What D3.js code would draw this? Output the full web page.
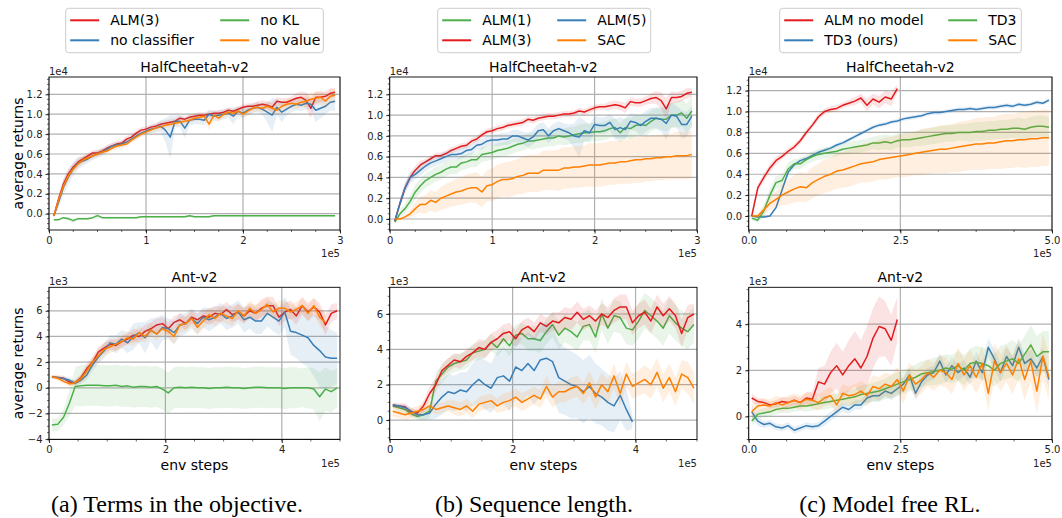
<!DOCTYPE html>
<html lang="en">
  <head>
    <meta charset="UTF-8" />
    <title>ALM ablations</title>
    <style>
      body { margin: 0; background: #fff; }
      svg { display: block; font-family: "DejaVu Sans", sans-serif; }
    </style>
  </head>
  <body>
    <div class="chart"></div>
    <script src="https://d3js.org/d3.v7.min.js"></script>
    <script>
      // env steps (x 1e5)
      const cheetahSteps = d3.range(59).map((i) => 0.05 + i * 0.05);
      const longSteps = d3.range(50).map((i) => 0.05 + i * 0.1);

      // ---- HalfCheetah, returns x 1e4 ----
      const alm3Cheetah = [
        -0.02, 0.15, 0.3, 0.4, 0.47, 0.52, 0.55, 0.58, 0.61, 0.61,
        0.63, 0.66, 0.68, 0.7, 0.71, 0.75, 0.77, 0.81, 0.84, 0.85,
        0.87, 0.88, 0.9, 0.91, 0.92, 0.93, 0.96, 0.95, 0.97, 0.98,
        0.99, 0.99, 1.0, 1.01, 1.01, 1.02, 1.04, 1.03, 1.05, 1.07,
        1.08, 1.08, 1.09, 1.1, 1.09, 1.07, 1.13, 1.12, 1.12, 1.14,
        1.16, 1.17, 1.14, 1.06, 1.17, 1.17, 1.18, 1.21, 1.22,
      ];
      const alm3CheetahSd = [
        0.02, 0.04, 0.05, 0.05, 0.04, 0.04, 0.03, 0.03, 0.03, 0.03,
        0.03, 0.03, 0.03, 0.03, 0.03, 0.03, 0.03, 0.03, 0.03, 0.03,
        0.03, 0.03, 0.03, 0.03, 0.03, 0.03, 0.03, 0.03, 0.03, 0.03,
        0.03, 0.03, 0.03, 0.03, 0.03, 0.03, 0.03, 0.03, 0.03, 0.03,
        0.03, 0.03, 0.04, 0.04, 0.04, 0.05, 0.04, 0.04, 0.04, 0.04,
        0.05, 0.06, 0.08, 0.1, 0.06, 0.05, 0.05, 0.05, 0.04,
      ];
      const noClassifierCheetah = [
        -0.02, 0.12, 0.27, 0.37, 0.45, 0.51, 0.53, 0.55, 0.58, 0.6,
        0.62, 0.65, 0.68, 0.69, 0.7, 0.72, 0.75, 0.78, 0.81, 0.83,
        0.85, 0.86, 0.88, 0.84, 0.77, 0.93, 0.93, 0.86, 0.94, 0.95,
        0.95, 0.94, 1.0, 0.98, 0.99, 1.0, 1.01, 0.98, 1.03, 1.01,
        1.04, 1.06, 1.07, 1.05, 1.02, 0.99, 1.07, 1.02, 1.05, 1.08,
        1.1, 1.09, 1.11, 1.1, 1.04, 1.06, 1.08, 1.12, 1.13,
      ];
      const noClassifierCheetahSd = [
        0.02, 0.06, 0.08, 0.08, 0.07, 0.06, 0.05, 0.04, 0.04, 0.04,
        0.04, 0.03, 0.03, 0.03, 0.03, 0.03, 0.03, 0.03, 0.03, 0.03,
        0.04, 0.05, 0.06, 0.12, 0.22, 0.06, 0.06, 0.1, 0.05, 0.05,
        0.05, 0.05, 0.05, 0.05, 0.05, 0.05, 0.05, 0.08, 0.05, 0.05,
        0.05, 0.05, 0.05, 0.06, 0.1, 0.17, 0.08, 0.1, 0.06, 0.06,
        0.06, 0.06, 0.06, 0.06, 0.12, 0.1, 0.08, 0.08, 0.1,
      ];
      const noKlCheetah = [
        -0.06, -0.06, -0.04, -0.05, -0.07, -0.05, -0.05, -0.05, -0.04, -0.02,
        -0.04, -0.04, -0.04, -0.04, -0.04, -0.04, -0.04, -0.04, -0.03, -0.03,
        -0.03, -0.03, -0.03, -0.03, -0.03, -0.03, -0.03, -0.03, -0.02, -0.03,
        -0.03, -0.03, -0.03, -0.02, -0.02, -0.02, -0.02, -0.02, -0.02, -0.02,
        -0.02, -0.02, -0.02, -0.02, -0.02, -0.02, -0.02, -0.02, -0.02, -0.02,
        -0.02, -0.02, -0.02, -0.02, -0.02, -0.02, -0.02, -0.02, -0.02,
      ];
      const noKlCheetahSd = [
        0.01, 0.01, 0.01, 0.02, 0.02, 0.01, 0.01, 0.01, 0.01, 0.03,
        0.01, 0.01, 0.01, 0.01, 0.01, 0.01, 0.01, 0.01, 0.01, 0.01,
        0.01, 0.01, 0.01, 0.01, 0.01, 0.01, 0.01, 0.01, 0.01, 0.01,
        0.01, 0.01, 0.01, 0.01, 0.01, 0.01, 0.01, 0.01, 0.01, 0.01,
        0.01, 0.01, 0.01, 0.01, 0.01, 0.01, 0.01, 0.01, 0.01, 0.01,
        0.01, 0.01, 0.01, 0.01, 0.01, 0.01, 0.01, 0.01, 0.01,
      ];
      const noValueCheetah = [
        -0.02, 0.14, 0.28, 0.38, 0.45, 0.5, 0.54, 0.56, 0.58, 0.6,
        0.62, 0.63, 0.66, 0.68, 0.69, 0.7, 0.74, 0.77, 0.8, 0.82,
        0.84, 0.86, 0.87, 0.89, 0.9, 0.91, 0.92, 0.93, 0.94, 0.96,
        0.97, 0.98, 0.9, 0.99, 0.96, 1.0, 1.02, 1.01, 1.03, 1.0,
        1.03, 1.06, 1.07, 1.06, 1.08, 1.06, 1.04, 1.08, 1.1, 1.11,
        1.1, 1.12, 1.13, 1.15, 1.16, 1.17, 1.13, 1.18, 1.19,
      ];
      const noValueCheetahSd = [
        0.02, 0.04, 0.05, 0.05, 0.04, 0.04, 0.04, 0.03, 0.03, 0.03,
        0.03, 0.03, 0.03, 0.03, 0.03, 0.03, 0.03, 0.03, 0.03, 0.03,
        0.03, 0.03, 0.03, 0.03, 0.03, 0.03, 0.03, 0.03, 0.03, 0.03,
        0.03, 0.03, 0.06, 0.04, 0.04, 0.03, 0.03, 0.03, 0.03, 0.04,
        0.04, 0.04, 0.04, 0.04, 0.04, 0.05, 0.05, 0.05, 0.05, 0.05,
        0.05, 0.05, 0.06, 0.06, 0.06, 0.07, 0.07, 0.07, 0.07,
      ];
      const alm1Cheetah = [
        -0.03, 0.05, 0.1, 0.17, 0.26, 0.32, 0.37, 0.4, 0.43, 0.45,
        0.48, 0.5, 0.5, 0.54, 0.55, 0.57, 0.57, 0.62, 0.63, 0.64,
        0.66, 0.67, 0.68, 0.7, 0.72, 0.73, 0.75, 0.75, 0.76, 0.77,
        0.78, 0.78, 0.8, 0.79, 0.8, 0.81, 0.82, 0.83, 0.83, 0.84,
        0.84, 0.85, 0.87, 0.88, 0.83, 0.88, 0.87, 0.9, 0.91, 0.9,
        0.94, 0.97, 0.96, 0.96, 1.0, 1.0, 1.02, 0.97, 1.04,
      ];
      const alm1CheetahSd = [
        0.01, 0.03, 0.05, 0.06, 0.07, 0.07, 0.07, 0.07, 0.07, 0.07,
        0.07, 0.07, 0.07, 0.07, 0.07, 0.07, 0.07, 0.07, 0.07, 0.07,
        0.07, 0.07, 0.07, 0.07, 0.07, 0.07, 0.07, 0.08, 0.08, 0.08,
        0.08, 0.08, 0.08, 0.08, 0.08, 0.08, 0.09, 0.09, 0.09, 0.09,
        0.09, 0.09, 0.09, 0.09, 0.09, 0.1, 0.1, 0.1, 0.1, 0.1,
        0.1, 0.1, 0.1, 0.12, 0.12, 0.13, 0.13, 0.14, 0.15,
      ];
      const alm5Cheetah = [
        -0.02, 0.15, 0.3, 0.4, 0.43, 0.47, 0.51, 0.54, 0.56, 0.58,
        0.6, 0.62, 0.62, 0.63, 0.66, 0.67, 0.71, 0.72, 0.75, 0.76,
        0.76, 0.77, 0.77, 0.8, 0.8, 0.78, 0.76, 0.79, 0.85, 0.86,
        0.8, 0.85, 0.87, 0.85, 0.83, 0.8, 0.79, 0.85, 0.83, 0.91,
        0.9, 0.9, 0.93, 0.86, 0.88, 0.86, 0.94, 0.93, 0.9, 0.94,
        0.97, 0.97, 0.96, 0.92, 1.0, 0.99, 0.91, 0.91, 0.99,
      ];
      const alm5CheetahSd = [
        0.01, 0.04, 0.05, 0.05, 0.05, 0.05, 0.05, 0.05, 0.05, 0.05,
        0.05, 0.05, 0.05, 0.05, 0.05, 0.05, 0.05, 0.05, 0.05, 0.05,
        0.06, 0.06, 0.06, 0.06, 0.06, 0.06, 0.07, 0.07, 0.07, 0.07,
        0.07, 0.07, 0.07, 0.07, 0.08, 0.12, 0.2, 0.1, 0.08, 0.08,
        0.08, 0.08, 0.08, 0.1, 0.1, 0.1, 0.08, 0.08, 0.1, 0.1,
        0.1, 0.1, 0.12, 0.16, 0.12, 0.1, 0.14, 0.12, 0.1,
      ];
      const sacCheetah = [
        0.0, 0.0, 0.02, 0.05, 0.1, 0.14, 0.14, 0.18, 0.16, 0.2,
        0.22, 0.24, 0.26, 0.27, 0.29, 0.3, 0.3, 0.26, 0.32, 0.33,
        0.36, 0.38, 0.38, 0.39, 0.41, 0.42, 0.44, 0.44, 0.44, 0.47,
        0.47, 0.47, 0.47, 0.49, 0.49, 0.5, 0.5, 0.51, 0.52, 0.52,
        0.52, 0.53, 0.54, 0.54, 0.55, 0.55, 0.56, 0.57, 0.57, 0.58,
        0.58, 0.59, 0.59, 0.6, 0.6, 0.61, 0.61, 0.61, 0.62,
      ];
      const sacCheetahSd = [
        0.0, 0.01, 0.02, 0.04, 0.06, 0.08, 0.09, 0.1, 0.1, 0.11,
        0.12, 0.12, 0.13, 0.13, 0.14, 0.14, 0.15, 0.15, 0.15, 0.16,
        0.16, 0.16, 0.17, 0.17, 0.17, 0.18, 0.18, 0.18, 0.18, 0.19,
        0.19, 0.19, 0.2, 0.2, 0.2, 0.2, 0.2, 0.2, 0.21, 0.21,
        0.21, 0.21, 0.21, 0.21, 0.21, 0.21, 0.22, 0.22, 0.22, 0.22,
        0.22, 0.22, 0.22, 0.22, 0.22, 0.23, 0.23, 0.23, 0.23,
      ];
      // model free, HalfCheetah (longSteps)
      const noModelCheetah = [
        0.0, 0.27, 0.37, 0.46, 0.53, 0.57, 0.62, 0.66, 0.72, 0.8,
        0.87, 0.95, 1.0, 1.02, 1.03, 1.06, 1.08, 1.1, 1.13, 1.06,
        1.12, 1.09, 1.14, 1.12, 1.22,
      ];
      const noModelCheetahSd = [
        0.01, 0.04, 0.04, 0.04, 0.04, 0.03, 0.03, 0.03, 0.03, 0.03,
        0.03, 0.03, 0.03, 0.03, 0.03, 0.03, 0.03, 0.04, 0.04, 0.06,
        0.05, 0.06, 0.06, 0.07, 0.04,
      ];
      const td3OursCheetah = [
        0.0, -0.01, -0.01, 0.0, 0.08, 0.25, 0.42, 0.49, 0.53, 0.55,
        0.58, 0.61, 0.63, 0.65, 0.68, 0.7, 0.73, 0.76, 0.79, 0.82,
        0.85, 0.87, 0.88, 0.9, 0.91, 0.93, 0.94, 0.95, 0.96, 0.98,
        0.99, 0.99, 1.0, 1.01, 1.02, 1.02, 1.03, 1.02, 1.03, 1.04,
        1.04, 1.05, 1.06, 1.05, 1.07, 1.06, 1.07, 1.09, 1.08, 1.11,
      ];
      const td3OursCheetahSd = [
        0.01, 0.01, 0.01, 0.01, 0.02, 0.03, 0.02, 0.02, 0.02, 0.02,
        0.02, 0.02, 0.02, 0.02, 0.02, 0.02, 0.02, 0.02, 0.02, 0.02,
        0.02, 0.02, 0.02, 0.02, 0.02, 0.02, 0.02, 0.02, 0.02, 0.02,
        0.02, 0.02, 0.02, 0.02, 0.02, 0.02, 0.02, 0.02, 0.02, 0.02,
        0.02, 0.02, 0.02, 0.02, 0.02, 0.02, 0.02, 0.02, 0.02, 0.02,
      ];
      const td3Cheetah = [
        -0.02, -0.04, 0.05, 0.2, 0.32, 0.34, 0.45, 0.5, 0.5, 0.54,
        0.57, 0.59, 0.6, 0.61, 0.62, 0.64, 0.65, 0.66, 0.67, 0.68,
        0.7, 0.7, 0.71, 0.7, 0.72, 0.73, 0.73, 0.74, 0.75, 0.76,
        0.77, 0.78, 0.79, 0.79, 0.8, 0.8, 0.8, 0.81, 0.81, 0.82,
        0.82, 0.83, 0.83, 0.84, 0.84, 0.83, 0.85, 0.86, 0.86, 0.85,
      ];
      const td3CheetahSd = [
        0.02, 0.03, 0.06, 0.06, 0.06, 0.06, 0.06, 0.05, 0.05, 0.05,
        0.05, 0.05, 0.05, 0.05, 0.05, 0.05, 0.06, 0.06, 0.06, 0.06,
        0.06, 0.07, 0.07, 0.07, 0.07, 0.07, 0.07, 0.07, 0.08, 0.08,
        0.08, 0.08, 0.08, 0.08, 0.08, 0.08, 0.09, 0.09, 0.09, 0.09,
        0.09, 0.09, 0.09, 0.09, 0.1, 0.1, 0.1, 0.1, 0.1, 0.1,
      ];
      const sacCheetahLong = [
        0.0, 0.0, 0.06, 0.12, 0.16, 0.2, 0.23, 0.26, 0.28, 0.27,
        0.32, 0.35, 0.38, 0.4, 0.43, 0.44, 0.46, 0.48, 0.5, 0.51,
        0.52, 0.54, 0.55, 0.56, 0.57, 0.58, 0.59, 0.6, 0.61, 0.62,
        0.63, 0.64, 0.64, 0.65, 0.66, 0.67, 0.68, 0.69, 0.69, 0.7,
        0.7, 0.71, 0.72, 0.72, 0.73, 0.73, 0.74, 0.74, 0.75, 0.75,
      ];
      const sacCheetahLongSd = [
        0.01, 0.02, 0.04, 0.06, 0.08, 0.1, 0.12, 0.13, 0.14, 0.14,
        0.15, 0.15, 0.16, 0.16, 0.17, 0.17, 0.18, 0.18, 0.18, 0.19,
        0.19, 0.19, 0.2, 0.2, 0.2, 0.21, 0.21, 0.21, 0.22, 0.22,
        0.22, 0.23, 0.23, 0.23, 0.24, 0.24, 0.24, 0.25, 0.25, 0.25,
        0.25, 0.26, 0.26, 0.26, 0.26, 0.27, 0.27, 0.27, 0.27, 0.27,
      ];

      // ---- Ant, returns x 1e3 (longSteps) ----
      const alm3Ant = [
        0.85, 0.8, 0.75, 0.45, 0.4, 0.8, 1.5, 2.0, 2.8, 3.1,
        3.4, 3.3, 3.6, 3.8, 4.1, 4.0, 4.4, 4.6, 4.9, 5.0,
        4.6, 5.1, 5.3, 5.0, 5.5, 5.3, 5.6, 5.5, 5.8, 5.7,
        6.1, 5.7, 5.9, 5.6, 6.0, 5.8, 6.2, 6.4, 6.4, 5.5,
        5.9, 6.1, 5.6, 6.4, 5.9, 6.3, 5.9, 4.9, 5.8, 6.0,
      ];
      const alm3AntSd = [
        0.15, 0.15, 0.2, 0.2, 0.2, 0.3, 0.4, 0.4, 0.4, 0.4,
        0.4, 0.4, 0.4, 0.4, 0.5, 0.5, 0.5, 0.5, 0.5, 0.5,
        0.5, 0.5, 0.5, 0.5, 0.5, 0.5, 0.5, 0.6, 0.6, 0.6,
        0.6, 0.6, 0.6, 0.6, 0.6, 0.6, 0.7, 0.7, 0.7, 0.7,
        0.7, 0.7, 0.7, 0.7, 0.7, 0.7, 0.7, 0.8, 0.7, 0.6,
      ];
      const noClassifierAnt = [
        0.85, 0.8, 0.7, 0.6, 0.35, 0.6, 1.0, 1.8, 2.4, 2.9,
        3.5, 3.4, 3.8, 3.5, 4.0, 4.3, 3.9, 4.5, 4.2, 4.7,
        4.6, 4.3, 4.9, 5.0, 5.4, 5.0, 5.5, 5.3, 5.5, 5.8,
        5.4, 5.6, 5.9, 5.3, 5.5, 5.2, 5.2, 5.8, 5.5, 5.2,
        5.9, 4.4, 4.3, 4.1, 3.9, 3.3, 2.9, 2.4, 2.3, 2.3,
      ];
      const noClassifierAntSd = [
        0.1, 0.1, 0.2, 0.2, 0.2, 0.3, 0.4, 0.5, 0.5, 0.6,
        0.6, 0.7, 0.7, 0.8, 1.0, 0.8, 1.2, 0.9, 1.3, 1.0,
        0.8, 0.9, 0.9, 0.8, 0.8, 0.8, 0.8, 0.9, 0.8, 0.8,
        0.9, 0.9, 0.9, 1.0, 0.9, 1.0, 1.0, 1.0, 1.1, 1.1,
        1.2, 1.8, 2.0, 2.2, 2.3, 2.4, 2.8, 2.5, 2.2, 2.0,
      ];
      const noKlAnt = [
        -2.9, -2.85, -2.3, -1.2, 0.1, 0.15, 0.2, 0.2, 0.2, 0.15,
        0.15, 0.2, 0.1, 0.15, 0.05, 0.1, 0.1, 0.05, 0.1, -0.1,
        -0.4, 0.0, 0.05, 0.0, 0.05, 0.0, 0.0, -0.05, 0.0, 0.0,
        0.05, 0.0, 0.0, -0.05, 0.0, 0.05, 0.05, 0.0, 0.0, 0.0,
        -0.05, 0.0, 0.0, 0.0, 0.0, -0.1, -0.7, -0.1, -0.3, 0.0,
      ];
      const noKlAntSd = [
        0.5, 0.5, 0.6, 1.0, 1.5, 1.6, 1.6, 1.6, 1.6, 1.6,
        1.6, 1.6, 1.6, 1.6, 1.6, 1.6, 1.6, 1.6, 1.6, 1.6,
        1.6, 1.6, 1.6, 1.6, 1.6, 1.6, 1.6, 1.6, 1.6, 1.6,
        1.6, 1.6, 1.6, 1.6, 1.6, 1.6, 1.6, 1.6, 1.6, 1.6,
        1.6, 1.6, 1.6, 1.5, 1.6, 1.6, 1.9, 1.7, 1.6, 1.5,
      ];
      const noValueAnt = [
        0.85, 0.75, 0.5, 0.3, 0.4, 0.7, 1.3, 2.0, 2.5, 3.0,
        3.2, 3.4, 3.6, 3.9, 3.8, 4.3, 4.0, 4.5, 4.2, 4.6,
        4.4, 4.0, 4.9, 5.0, 5.4, 4.7, 5.2, 5.7, 5.4, 5.8,
        5.6, 5.4, 6.0, 5.6, 6.2, 5.8, 6.1, 6.5, 5.9, 6.2,
        6.2, 5.9, 6.1, 6.4, 5.8, 6.4, 5.5, 5.1,
      ];
      const noValueAntSd = [
        0.15, 0.2, 0.2, 0.2, 0.2, 0.3, 0.4, 0.4, 0.5, 0.5,
        0.5, 0.5, 0.5, 0.5, 0.5, 0.5, 0.5, 0.5, 0.5, 0.5,
        0.5, 0.6, 0.6, 0.6, 0.6, 0.6, 0.6, 0.6, 0.6, 0.6,
        0.6, 0.6, 0.6, 0.6, 0.6, 0.6, 0.6, 0.6, 0.6, 0.6,
        0.6, 0.6, 0.6, 0.6, 0.6, 0.6, 0.7, 0.7,
      ];
      const alm1Ant = [
        0.8, 0.7, 0.6, 0.35, 0.2, 0.3, 0.5, 2.2, 2.6, 3.0,
        3.2, 3.3, 3.4, 3.8, 3.9, 4.0, 4.4, 4.1, 4.6, 4.2,
        4.8, 4.9, 4.6, 4.6, 4.5, 5.0, 5.4, 4.8, 5.2, 5.0,
        4.7, 5.3, 5.4, 4.7, 6.0, 5.2, 5.9, 5.8, 5.2, 5.1,
        5.6, 6.2, 5.9, 5.6, 5.2, 5.9, 5.5, 5.2, 5.0, 5.4,
      ];
      const alm1AntSd = [
        0.1, 0.2, 0.2, 0.2, 0.2, 0.3, 0.4, 0.5, 0.5, 0.5,
        0.5, 0.5, 0.5, 0.5, 0.5, 0.5, 0.5, 0.5, 0.6, 0.6,
        0.6, 0.6, 0.7, 0.7, 0.7, 0.7, 0.7, 0.8, 0.8, 0.8,
        0.8, 0.8, 0.9, 0.9, 0.9, 0.9, 0.9, 0.9, 0.9, 0.9,
        1.0, 1.0, 1.0, 1.0, 1.0, 1.0, 1.0, 1.0, 1.0, 1.0,
      ];
      const alm5Ant = [
        0.85, 0.8, 0.7, 0.5, 0.3, 0.3, 0.4, 0.9, 1.3, 1.6,
        1.5, 1.7, 1.6, 2.0, 2.3, 2.0, 1.8, 2.4, 2.5, 2.2,
        3.0, 2.8, 3.2, 2.8, 3.4, 3.5, 3.3, 2.4, 2.2, 2.0,
        1.9, 1.6, 1.9, 1.5, 1.3, 1.0, 0.8, 1.4, 0.6, -0.1,
      ];
      const alm5AntSd = [
        0.1, 0.1, 0.2, 0.2, 0.2, 0.3, 0.4, 0.8, 1.0, 1.0,
        1.0, 1.0, 1.1, 1.2, 1.3, 1.4, 1.4, 1.5, 1.6, 1.7,
        1.8, 1.8, 1.8, 1.9, 2.0, 2.0, 2.0, 2.0, 1.9, 1.9,
        1.8, 1.8, 1.8, 1.7, 1.6, 1.6, 1.5, 1.4, 1.2, 0.4,
      ];
      const sacAnt = [
        0.5, 0.4, 0.3, 0.4, 0.5, 0.6, 0.8, 0.6, 0.7, 0.8,
        0.7, 0.6, 0.8, 0.5, 0.9, 1.0, 1.1, 0.8, 1.0, 1.1,
        1.3, 1.0, 1.2, 1.4, 1.2, 1.9, 1.3, 1.6, 1.6, 1.8,
        1.9, 1.5, 2.1, 1.3, 2.0, 1.6, 2.5, 1.5, 2.6, 1.9,
        2.1, 2.3, 2.0, 2.7, 1.8, 2.4, 1.6, 2.6, 2.4, 1.8,
      ];
      const sacAntSd = [
        0.3, 0.3, 0.3, 0.3, 0.3, 0.3, 0.3, 0.3, 0.3, 0.3,
        0.4, 0.4, 0.4, 0.4, 0.4, 0.4, 0.4, 0.4, 0.5, 0.5,
        0.5, 0.5, 0.5, 0.5, 0.5, 0.6, 0.6, 0.6, 0.6, 0.6,
        0.6, 0.6, 0.7, 0.7, 0.7, 0.7, 0.7, 0.7, 0.7, 0.7,
        0.7, 0.8, 0.8, 0.8, 0.8, 0.8, 0.8, 0.8, 0.9, 0.9,
      ];
      const noModelAnt = [
        0.8, 0.65, 0.6, 0.5, 0.55, 0.65, 0.6, 0.7, 0.6, 0.8,
        0.75, 1.5, 1.4, 1.9, 2.2, 1.8, 2.2, 2.5, 2.1, 2.6,
        3.4, 3.9, 3.8, 3.3, 4.2,
      ];
      const noModelAntSd = [
        0.2, 0.15, 0.15, 0.15, 0.15, 0.2, 0.2, 0.2, 0.2, 0.25,
        0.3, 0.6, 0.8, 0.9, 1.0, 1.0, 1.1, 1.2, 1.2, 1.3,
        1.3, 1.3, 1.2, 1.1, 1.0,
      ];
      const td3OursAnt = [
        0.2, -0.2, -0.35, -0.3, -0.45, -0.5, -0.4, -0.6, -0.5, -0.4,
        -0.45, -0.4, -0.2, 0.0, 0.2, 0.4, 0.3, 0.5, 0.5, 0.8,
        0.9, 0.9, 1.1, 1.0, 1.2, 1.4, 1.8, 1.0, 1.5, 1.8,
        1.9, 2.4, 1.8, 2.2, 1.9, 2.1, 1.7, 2.4, 1.9, 3.0,
        2.5, 1.9, 2.6, 2.2, 3.0, 2.3, 2.5, 2.1, 2.6, 1.6,
      ];
      const td3OursAntSd = [
        0.3, 0.2, 0.15, 0.15, 0.15, 0.15, 0.15, 0.15, 0.15, 0.15,
        0.15, 0.15, 0.2, 0.2, 0.2, 0.2, 0.2, 0.2, 0.2, 0.25,
        0.25, 0.25, 0.25, 0.3, 0.3, 0.3, 0.3, 0.3, 0.3, 0.3,
        0.3, 0.35, 0.35, 0.35, 0.35, 0.35, 0.35, 0.4, 0.4, 0.4,
        0.4, 0.4, 0.4, 0.4, 0.4, 0.4, 0.4, 0.4, 0.4, 0.4,
      ];
      const td3Ant = [
        -0.2, 0.1, 0.15, 0.2, 0.3, 0.35, 0.35, 0.4, 0.45, 0.45,
        0.5, 0.55, 0.6, 0.65, 0.7, 0.75, 0.8, 0.85, 0.95, 1.0,
        1.05, 1.1, 1.2, 1.3, 1.4, 1.5, 1.6, 1.7, 1.85, 1.9,
        1.95, 2.0, 2.1, 2.05, 2.2, 2.0, 2.3, 2.35, 2.3, 2.2,
        2.0, 2.3, 2.4, 2.5, 2.3, 2.7, 3.1, 2.6, 2.8, 2.8,
      ];
      const td3AntSd = [
        0.2, 0.2, 0.2, 0.2, 0.2, 0.2, 0.2, 0.2, 0.2, 0.25,
        0.25, 0.25, 0.3, 0.3, 0.3, 0.3, 0.35, 0.35, 0.4, 0.4,
        0.4, 0.45, 0.45, 0.5, 0.5, 0.5, 0.5, 0.55, 0.55, 0.55,
        0.6, 0.6, 0.6, 0.6, 0.65, 0.65, 0.65, 0.7, 0.7, 0.7,
        0.7, 0.75, 0.75, 0.8, 0.8, 0.8, 0.85, 0.9, 0.9, 0.9,
      ];
      const sacAntMf = [
        0.2, 0.45, 0.5, 0.45, 0.6, 0.5, 0.6, 0.7, 0.6, 0.75,
        0.7, 0.6, 0.8, 0.9, 0.5, 1.0, 0.9, 0.95, 1.1, 0.9,
        1.3, 1.2, 1.4, 1.3, 1.6, 1.1, 1.8, 1.4, 1.6, 1.9,
        1.7, 2.0, 1.9, 1.6, 2.3, 1.8, 2.2, 1.7, 2.3, 1.0,
        2.4, 1.9, 2.3, 1.8, 2.5, 1.6, 2.4, 1.1, 2.6, 1.7,
      ];
      const sacAntMfSd = [
        0.3, 0.3, 0.3, 0.3, 0.3, 0.3, 0.3, 0.3, 0.3, 0.3,
        0.35, 0.35, 0.35, 0.4, 0.4, 0.4, 0.4, 0.45, 0.45, 0.45,
        0.5, 0.5, 0.5, 0.5, 0.55, 0.55, 0.55, 0.6, 0.6, 0.6,
        0.6, 0.65, 0.65, 0.65, 0.7, 0.7, 0.7, 0.7, 0.75, 0.75,
        0.8, 0.8, 0.8, 0.85, 0.85, 0.9, 0.9, 0.95, 1.0, 1.0,
      ];

      const RED = "#e41a1c";
      const BLUE = "#377eb8";
      const GREEN = "#4daf4a";
      const ORANGE = "#ff7f00";

      const width = 1062;
      const height = 518;

      const svg = d3
        .select(".chart")
        .append("svg")
        .attr("width", width)
        .attr("height", height);

      const cols = [
        { left: 49, right: 340 },
        { left: 389.7, right: 697 },
        { left: 748.7, right: 1052 },
      ];
      const rows = [
        { top: 77, bottom: 230, title: "HalfCheetah-v2", offset: "1e4" },
        { top: 287.3, bottom: 439.5, title: "Ant-v2", offset: "1e3" },
      ];

      const panels = [
        {
          col: 0, row: 0, xMax: 3, xTicks: [0, 1, 2, 3], xFmt: "d", xMinor: 0.25,
          yDomain: [-0.164, 1.374], yTicks: [0, 0.2, 0.4, 0.6, 0.8, 1.0, 1.2], yFmt: ".1f", yMinor: 0.05, yLabel: true,
          series: [
            { steps: cheetahSteps, v: alm3Cheetah, sd: alm3CheetahSd, color: RED },
            { steps: cheetahSteps, v: noClassifierCheetah, sd: noClassifierCheetahSd, color: BLUE },
            { steps: cheetahSteps, v: noKlCheetah, sd: noKlCheetahSd, color: GREEN },
            { steps: cheetahSteps, v: noValueCheetah, sd: noValueCheetahSd, color: ORANGE },
          ],
        },
        {
          col: 1, row: 0, xMax: 3, xTicks: [0, 1, 2, 3], xFmt: "d", xMinor: 0.25,
          yDomain: [-0.106, 1.367], yTicks: [0, 0.2, 0.4, 0.6, 0.8, 1.0, 1.2], yFmt: ".1f", yMinor: 0.05,
          series: [
            { steps: cheetahSteps, v: alm1Cheetah, sd: alm1CheetahSd, color: GREEN },
            { steps: cheetahSteps, v: alm3Cheetah, sd: alm3CheetahSd, color: RED },
            { steps: cheetahSteps, v: alm5Cheetah, sd: alm5CheetahSd, color: BLUE },
            { steps: cheetahSteps, v: sacCheetah, sd: sacCheetahSd, color: ORANGE },
          ],
        },
        {
          col: 2, row: 0, xMax: 5, xTicks: [0, 2.5, 5], xFmt: ".1f", xMinor: 0.625,
          yDomain: [-0.134, 1.331], yTicks: [0, 0.2, 0.4, 0.6, 0.8, 1.0, 1.2], yFmt: ".1f", yMinor: 0.05,
          series: [
            { steps: longSteps, v: noModelCheetah, sd: noModelCheetahSd, color: RED },
            { steps: longSteps, v: td3OursCheetah, sd: td3OursCheetahSd, color: BLUE },
            { steps: longSteps, v: td3Cheetah, sd: td3CheetahSd, color: GREEN },
            { steps: longSteps, v: sacCheetahLong, sd: sacCheetahLongSd, color: ORANGE },
          ],
        },
        {
          col: 0, row: 1, xMax: 5, xTicks: [0, 2, 4], xFmt: "d", xMinor: 0.5,
          yDomain: [-4.03, 7.83], yTicks: [-4, -2, 0, 2, 4, 6], yFmt: "d", yMinor: 0.5, yLabel: true,
          series: [
            { steps: longSteps, v: alm3Ant, sd: alm3AntSd, color: RED },
            { steps: longSteps, v: noClassifierAnt, sd: noClassifierAntSd, color: BLUE },
            { steps: longSteps, v: noKlAnt, sd: noKlAntSd, color: GREEN },
            { steps: longSteps, v: noValueAnt, sd: noValueAntSd, color: ORANGE },
          ],
        },
        {
          col: 1, row: 1, xMax: 5, xTicks: [0, 2, 4], xFmt: "d", xMinor: 0.5,
          yDomain: [-1.1, 7.51], yTicks: [0, 2, 4, 6], yFmt: "d", yMinor: 0.5,
          series: [
            { steps: longSteps, v: alm1Ant, sd: alm1AntSd, color: GREEN },
            { steps: longSteps, v: alm3Ant, sd: alm3AntSd, color: RED },
            { steps: longSteps, v: alm5Ant, sd: alm5AntSd, color: BLUE },
            { steps: longSteps, v: sacAnt, sd: sacAntSd, color: ORANGE },
          ],
        },
        {
          col: 2, row: 1, xMax: 5, xTicks: [0, 2.5, 5], xFmt: ".1f", xMinor: 0.625,
          yDomain: [-1.0, 5.6], yTicks: [0, 2, 4], yFmt: "d", yMinor: 0.5,
          series: [
            { steps: longSteps, v: noModelAnt, sd: noModelAntSd, color: RED },
            { steps: longSteps, v: td3OursAnt, sd: td3OursAntSd, color: BLUE },
            { steps: longSteps, v: td3Ant, sd: td3AntSd, color: GREEN },
            { steps: longSteps, v: sacAntMf, sd: sacAntMfSd, color: ORANGE },
          ],
        },
      ];

      panels.forEach((p, idx) => {
        const c = cols[p.col];
        const r = rows[p.row];
        const x = d3.scaleLinear().domain([0, p.xMax]).range([c.left, c.right]);
        const y = d3.scaleLinear().domain(p.yDomain).range([r.bottom, r.top]);
        const g = svg.append("g");

        const clipId = "clip" + idx;
        g.append("clipPath")
          .attr("id", clipId)
          .append("rect")
          .attr("x", c.left)
          .attr("y", r.top)
          .attr("width", c.right - c.left)
          .attr("height", r.bottom - r.top);

        // grid
        g.selectAll(".gx")
          .data(p.xTicks)
          .join("line")
          .attr("x1", (d) => x(d))
          .attr("x2", (d) => x(d))
          .attr("y1", r.top)
          .attr("y2", r.bottom)
          .attr("stroke", "#b0b0b0")
          .attr("stroke-width", 1.2);
        g.selectAll(".gy")
          .data(p.yTicks)
          .join("line")
          .attr("x1", c.left)
          .attr("x2", c.right)
          .attr("y1", (d) => y(d))
          .attr("y2", (d) => y(d))
          .attr("stroke", "#b0b0b0")
          .attr("stroke-width", 1.2);

        // bands + lines
        const plot = g.append("g").attr("clip-path", `url(#${clipId})`);
        p.series.forEach((s) => {
          const pts = s.v.map((v, i) => ({ x: s.steps[i], v, sd: s.sd[i] }));
          plot.append("path")
            .datum(pts)
            .attr("fill", s.color)
            .attr("fill-opacity", 0.12)
            .attr("d", d3.area().x((d) => x(d.x)).y0((d) => y(d.v - d.sd)).y1((d) => y(d.v + d.sd)));
          plot.append("path")
            .datum(pts)
            .attr("fill", "none")
            .attr("stroke", s.color)
            .attr("stroke-width", 1.5)
            .attr("stroke-linejoin", "round")
            .attr("d", d3.line().x((d) => x(d.x)).y((d) => y(d.v)));
        });

        // frame
        g.append("rect")
          .attr("x", c.left)
          .attr("y", r.top)
          .attr("width", c.right - c.left)
          .attr("height", r.bottom - r.top)
          .attr("fill", "none")
          .attr("stroke", "#000")
          .attr("stroke-width", 0.9);

        // axes
        const xAxis = d3.axisBottom(x).tickValues(p.xTicks).tickFormat(d3.format(p.xFmt)).tickSize(3.5).tickPadding(3);
        const yAxis = d3.axisLeft(y).tickValues(p.yTicks).tickFormat(d3.format(p.yFmt)).tickSize(3.5).tickPadding(3);
        const xMinor = d3.range(0, p.xMax + 1e-6, p.xMinor);
        const yMinor = d3.range(Math.ceil(p.yDomain[0] / p.yMinor) * p.yMinor, p.yDomain[1], p.yMinor);

        const gx = g.append("g").attr("transform", `translate(0,${r.bottom})`).call(xAxis);
        const gy = g.append("g").attr("transform", `translate(${c.left},0)`).call(yAxis);
        [gx, gy].forEach((a) => {
          a.select(".domain").remove();
          a.selectAll("text").attr("font-size", 10).attr("fill", "#222").attr("font-family", "DejaVu Sans");
          a.selectAll("line").attr("stroke", "#000").attr("stroke-width", 0.8);
        });
        g.append("g")
          .selectAll("line")
          .data(xMinor)
          .join("line")
          .attr("x1", (d) => x(d))
          .attr("x2", (d) => x(d))
          .attr("y1", r.bottom)
          .attr("y2", r.bottom + 2)
          .attr("stroke", "#000")
          .attr("stroke-width", 0.6);
        g.append("g")
          .selectAll("line")
          .data(yMinor)
          .join("line")
          .attr("x1", c.left - 2)
          .attr("x2", c.left)
          .attr("y1", (d) => y(d))
          .attr("y2", (d) => y(d))
          .attr("stroke", "#000")
          .attr("stroke-width", 0.6);

        // texts
        g.append("text")
          .attr("x", (c.left + c.right) / 2)
          .attr("y", r.top - 5.5)
          .attr("text-anchor", "middle")
          .attr("font-size", 14)
          .text(r.title);
        g.append("text")
          .attr("x", c.left)
          .attr("y", r.top - 2)
          .attr("font-size", 10)
          .attr("fill", "#222")
          .text(r.offset);
        g.append("text")
          .attr("x", c.right)
          .attr("y", r.bottom + 27)
          .attr("text-anchor", "end")
          .attr("font-size", 10)
          .attr("fill", "#222")
          .text("1e5");
        if (p.row === 1) {
          g.append("text")
            .attr("x", (c.left + c.right) / 2)
            .attr("y", r.bottom + 30)
            .attr("text-anchor", "middle")
            .attr("font-size", 14)
            .text("env steps");
        }
        if (p.yLabel) {
          const cy = (r.top + r.bottom) / 2;
          g.append("text")
            .attr("transform", `translate(23,${cy}) rotate(-90)`)
            .attr("text-anchor", "middle")
            .attr("font-size", 14)
            .text("average returns");
        }
      });

      // legends
      const legends = [
        { x: 65.7, w: 257.6, col2: 150, items: [["ALM(3)", RED], ["no classifier", BLUE], ["no KL", GREEN], ["no value", ORANGE]] },
        { x: 437.7, w: 213, col2: 115, items: [["ALM(1)", GREEN], ["ALM(3)", RED], ["ALM(5)", BLUE], ["SAC", ORANGE]] },
        { x: 779.7, w: 241.6, col2: 164, items: [["ALM no model", RED], ["TD3 (ours)", BLUE], ["TD3", GREEN], ["SAC", ORANGE]] },
      ];
      legends.forEach((lg) => {
        const g = svg.append("g").attr("transform", `translate(${lg.x},8.3)`);
        g.append("rect")
          .attr("width", lg.w)
          .attr("height", 44.4)
          .attr("rx", 3)
          .attr("fill", "#fff")
          .attr("stroke", "#cccccc")
          .attr("stroke-width", 1);
        lg.items.forEach((it, i) => {
          const ox = i < 2 ? 4.5 : 4.5 + lg.col2;
          const oy = i % 2 === 0 ? 12 : 32;
          g.append("line")
            .attr("x1", ox)
            .attr("x2", ox + 29)
            .attr("y1", oy)
            .attr("y2", oy)
            .attr("stroke", it[1])
            .attr("stroke-width", 2);
          g.append("text")
            .attr("x", ox + 40)
            .attr("y", oy + 5)
            .attr("font-size", 14)
            .text(it[0]);
        });
      });

      // sub-captions
      const captions = [
        ["(a) Terms in the objective.", 177],
        ["(b) Sequence length.", 534],
        ["(c) Model free RL.", 890],
      ];
      svg.selectAll(".cap")
        .data(captions)
        .join("text")
        .attr("x", (d) => d[1])
        .attr("y", 512)
        .attr("text-anchor", "middle")
        .attr("font-family", "Liberation Serif, serif")
        .attr("font-size", 24)
        .text((d) => d[0]);
    </script>
  </body>
</html>
